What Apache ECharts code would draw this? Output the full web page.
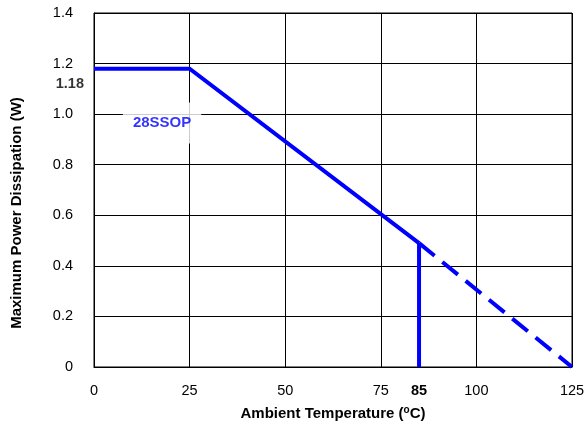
<!DOCTYPE html>
<html>
<head>
<meta charset="utf-8">
<script src="https://cdn.jsdelivr.net/npm/echarts@6/dist/echarts.min.js"></script>
<style>
html,body{margin:0;padding:0;background:#fff;}
#c{width:584px;height:427px;}
</style>
</head>
<body>
<div id="c"></div>
<script>
// ---- data ----
var xTicks = [0, 25, 50, 75, 100, 125];
var xExtraTick = 85;
var yTicks = [0, 0.2, 0.4, 0.6, 0.8, 1.0, 1.2, 1.4];
var solidCurve = [[0, 1.18], [25, 1.18], [85, 0.49]];
var dashedCurve = [[85, 0.49], [125, 0]];
var derateLine = [[85, 0], [85, 0.49]];
var ratedPower = 1.18;
var packageName = '28SSOP';
var packageLabelPos = [17.8, 0.965];
var xTitleMain = 'Ambient Temperature (';
var xTitleSup = 'o';
var xTitleEnd = 'C)';
var yTitle = 'Maximum Power Dissipation (W)';

var FONT = 'Liberation Sans, Arial, sans-serif';
var BLUE = '#0000ff';
var TICK_FS = 14.5;
var TITLE_FS = 15;
var chart = echarts.init(document.getElementById('c'), null, {renderer: 'canvas'});

var xLabelValues = xTicks.concat([xExtraTick]).sort(function(a,b){return a-b;});

chart.setOption({
  animation: false,
  backgroundColor: '#fff',
  grid: {left: 94, right: 12, top: 13, bottom: 60, show: true, borderColor: '#000', borderWidth: 1,
         backgroundColor: 'transparent', containLabel: false, outerBoundsMode: 'none'},
  xAxis: {
    type: 'value', min: 0, max: 125, interval: 25,
    name: '{t|' + xTitleMain + '}{s|' + xTitleSup + '}{t|' + xTitleEnd + '}',
    nameLocation: 'middle', nameGap: 38,
    nameTextStyle: {
      fontFamily: FONT, fontWeight: 'bold', fontSize: TITLE_FS, color: '#000',
      rich: {
        t: {fontFamily: FONT, fontWeight: 'bold', fontSize: TITLE_FS, color: '#000'},
        s: {fontFamily: FONT, fontWeight: 'bold', fontSize: 10, color: '#000', verticalAlign: 'top', padding: [0, 0, 7, 0]}
      }
    },
    axisLine: {show: true, lineStyle: {color: '#000', width: 1}},
    axisTick: {show: false},
    splitLine: {show: true, lineStyle: {color: '#000', width: 1}},
    axisLabel: {
      customValues: xLabelValues,
      margin: 16, fontFamily: FONT, fontSize: TICK_FS, color: '#000',
      formatter: function (v) { return v === xExtraTick ? '{b|' + v + '}' : String(v); },
      rich: {b: {fontFamily: FONT, fontSize: TICK_FS, fontWeight: 'bold', color: '#000'}}
    }
  },
  yAxis: {
    type: 'value', min: 0, max: 1.4, interval: 0.2,
    name: yTitle,
    nameLocation: 'middle', nameGap: 70,
    nameTextStyle: {fontFamily: FONT, fontWeight: 'bold', fontSize: TITLE_FS, color: '#000', padding: [0, 0, 0, -46]},
    axisLine: {show: true, lineStyle: {color: '#000', width: 1}},
    axisTick: {show: false},
    splitLine: {show: true, lineStyle: {color: '#000', width: 1}},
    axisLabel: {
      margin: 21, fontFamily: FONT, fontSize: TICK_FS, color: '#000',
      formatter: function (v) { return v === 0 ? '0' : v.toFixed(1); }
    }
  },
  series: [
    {
      type: 'line', data: solidCurve, symbol: 'none', z: 5,
      lineStyle: {color: BLUE, width: 4, cap: 'butt', join: 'miter'}
    },
    {
      type: 'line', data: dashedCurve, symbol: 'none', z: 5,
      lineStyle: {color: BLUE, width: 4, type: [20, 10], cap: 'butt'}
    },
    {
      type: 'line', data: derateLine, symbol: 'none', z: 5,
      lineStyle: {color: BLUE, width: 4, cap: 'butt'}
    },
    {
      type: 'scatter', data: [[0, ratedPower]], symbolSize: 0, z: 6, silent: true,
      itemStyle: {color: 'transparent'},
      label: {
        show: true, position: 'left', distance: 0, offset: [-10, 15],
        formatter: function () { return ratedPower.toFixed(2); },
        fontFamily: FONT, fontSize: TICK_FS, fontWeight: 'bold', color: '#000',
        textBorderWidth: 0
      }
    },
    {
      type: 'scatter', data: [packageLabelPos], symbolSize: 0, z: 6, silent: true,
      itemStyle: {color: 'transparent'},
      label: {
        show: true, position: 'inside',
        formatter: packageName,
        fontFamily: FONT, fontSize: 15, fontWeight: 'bold', color: BLUE,
        textBorderWidth: 0, textBorderColor: 'transparent',
        backgroundColor: '#fff', padding: [12, 10], lineHeight: 17
      }
    }
  ]
});
</script>
</body>
</html>
